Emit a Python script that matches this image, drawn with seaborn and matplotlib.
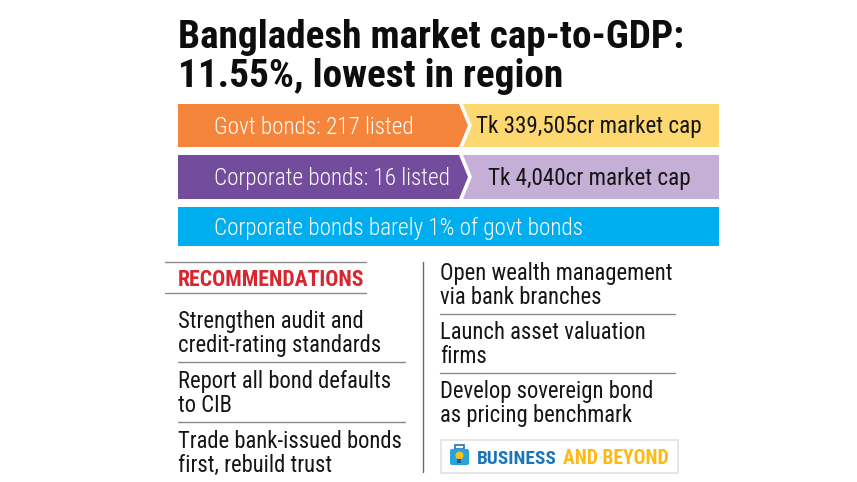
#!/usr/bin/env python

# Bangladesh bond market infographic: title, three coloured bands, two
# columns of recommendations and the "Business and Beyond" tag.

import matplotlib.pyplot as plt
import seaborn as sns
from matplotlib import font_manager as fm
from matplotlib.patches import Rectangle, FancyBboxPatch, Circle

title_lines = ["Bangladesh market cap-to-GDP:", "11.55%, lowest in region"]
bond_labels = ["Govt bonds: 217 listed", "Corporate bonds: 16 listed"]
cap_labels = ["Tk 339,505cr market cap", "Tk 4,040cr market cap"]
summary_label = "Corporate bonds barely 1% of govt bonds"
rec_heading = "RECOMMENDATIONS"
left_recs = [
    ["Strengthen audit and", "credit-rating standards"],
    ["Report all bond defaults", "to CIB"],
    ["Trade bank-issued bonds", "first, rebuild trust"],
]
right_recs = [
    ["Open wealth management", "via bank branches"],
    ["Launch asset valuation", "firms"],
    ["Develop sovereign bond", "as pricing benchmark"],
]
brand_words = ["BUSINESS", "AND BEYOND"]

bond_colors = ["#F5853A", "#744C9E"]
cap_colors = ["#FDD870", "#C6AFD6"]
summary_color = "#00AEEF"

sns.set_theme(style="white")

names = {f.name for f in fm.fontManager.ttflist}


def pick(*cands):
    for c in cands:
        if c in names:
            return c
    return "DejaVu Sans"


narrow = pick("Liberation Sans Narrow", "Roboto Condensed", "Roboto")
plt.rcParams["font.family"] = [narrow, "DejaVu Sans"]

fig = plt.figure(figsize=(8.57, 4.82), dpi=100)
ax = fig.add_axes([0, 0, 1, 1])
ax.set_xlim(0, 857)
ax.set_ylim(482, 0)
ax.axis("off")
renderer = fig.canvas.get_renderer()


def fit(txt, width):
    # scale the font so the text spans the width seen in the reference
    w = txt.get_window_extent(renderer).width
    txt.set_fontsize(txt.get_fontsize() * width / w)
    return txt.get_fontsize()


# title
t1 = ax.text(178, 48, title_lines[0], fontsize=30, fontweight="black",
             color="#0d0d0d", va="baseline")
size = fit(t1, 507)
ax.text(178, 87, title_lines[1], fontsize=size, fontweight="black",
        color="#0d0d0d", va="baseline")

# chevron bands
tops = [104, 155]
bots = [147, 199]
ref = ax.text(214, 234.5, summary_label, fontsize=16, color="white",
              va="baseline", fontweight="light")
band_size = fit(ref, 368)
for i in range(len(bond_labels)):
    t, b = tops[i], bots[i]
    m = (t + b) / 2
    ax.fill([178, 459, 468, 459, 178], [t, t, m, b, b], color=bond_colors[i], lw=0)
    ax.fill([463, 719, 719, 463, 472], [t, t, b, b, m], color=cap_colors[i], lw=0)
    ax.text(214, m + 8, bond_labels[i], fontsize=band_size, color="white",
            va="baseline", fontweight="light")
    ax.text(589, m + 8, cap_labels[i], fontsize=band_size, color="#151515",
            va="baseline", ha="center")
ax.fill([178, 719, 719, 178], [207, 207, 246, 246], color=summary_color, lw=0)

# recommendations
ax.plot([165, 366], [262, 262], color="#8a8a8a", lw=1)
ax.plot([165, 366], [293, 293], color="#8a8a8a", lw=1)
h = ax.text(178, 286, rec_heading, fontsize=14, fontweight="black",
            color="#D7262E", va="baseline")
fit(h, 187)
ax.plot([423, 423], [262, 472], color="#6a6a6a", lw=1)

probe = ax.text(440, 280, right_recs[0][0], fontsize=16, color="#151515",
                va="baseline")
body_size = fit(probe, 233)
probe.remove()


def column(x, first, pitch, sep_end, recs):
    for k, lines in enumerate(recs):
        base = first + k * pitch
        for j, line in enumerate(lines):
            ax.text(x, base + j * 24, line, fontsize=body_size,
                    color="#151515", va="baseline")
        if k < len(recs) - 1:
            ax.plot([x, sep_end], [base + 34, base + 34], color="#8a8a8a", lw=1)


column(178, 328, 60, 405, left_recs)
column(440, 280, 59, 675, right_recs)

# brand tag
ax.add_patch(Rectangle((441, 440), 237, 33, facecolor="white",
                       edgecolor="#e2e2e2", lw=1.2))
ax.add_patch(Rectangle((455, 445), 9, 4, facecolor="none",
                       edgecolor="#1B75BC", lw=1.2))
ax.add_patch(FancyBboxPatch((450, 449), 19, 16, boxstyle="round,pad=0,rounding_size=2",
                            facecolor="#29A3DD", edgecolor="none"))
ax.add_patch(Circle((459.5, 455.5), 4, facecolor="#FDC010", edgecolor="none"))
ax.add_patch(Rectangle((457.5, 459), 4, 4, facecolor="#1B5E8C", edgecolor="none"))
b1 = ax.text(477, 464, brand_words[0], fontsize=14, fontweight="bold",
             color="#1B75BC", va="baseline")
fit(b1, 80)
b2 = ax.text(563, 464, brand_words[1], fontsize=14, fontweight="bold",
             color="#FDBA12", va="baseline")
fit(b2, 106)

fig.savefig("out.png", dpi=100)
